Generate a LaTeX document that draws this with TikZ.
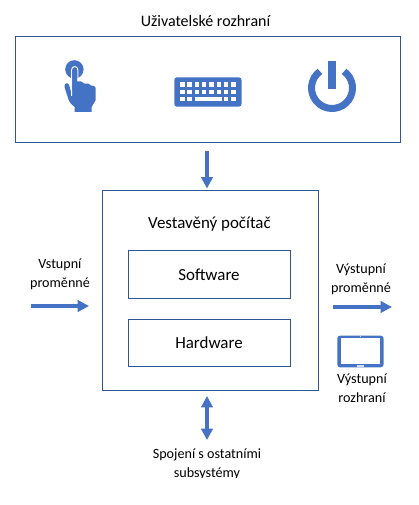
\documentclass[tikz,border=0pt]{standalone}
\usepackage{fontspec}
\setmainfont{Carlito}
\usetikzlibrary{arrows.meta}
\definecolor{boxc}{HTML}{2F5597}
\definecolor{fillc}{HTML}{4472C4}
\tikzset{
  x=0.75pt,y=-0.75pt,
  box/.style={draw=boxc,line width=0.75pt,fill=white,inner sep=0pt},
  lab/.style={font=\fontsize{10.6pt}{14pt}\selectfont,align=center,inner sep=0pt,text=black},
  big/.style={font=\fontsize{12.7pt}{15pt}\selectfont,inner sep=0pt,text=black},
  fat/.style={draw=fillc,line width=3pt,-{Triangle[length=8.5pt,width=8.5pt]}},
  fatb/.style={draw=fillc,line width=3pt,{Triangle[length=8.5pt,width=8.5pt]}-{Triangle[length=8.5pt,width=8.5pt]}},
  key/.style={fill=white,draw=none},
}
\begin{document}
\begin{tikzpicture}
\useasboundingbox (0,0) rectangle (418,505);
\fill[white] (0,0) rectangle (418,505);
% boxes
\node[box,minimum width=288.75pt,minimum height=79.5pt] (ui) at (207.5,90) {};
\node[box,minimum width=162pt,minimum height=149.25pt] (pc) at (210,290.5) {};
\node[box,minimum width=121.5pt,minimum height=35.25pt] (sw) at (209,274.5) {};
\node[box,minimum width=121.5pt,minimum height=35.25pt] (hw) at (209,342.5) {};
% labels
\node[big,font=\fontsize{12pt}{15pt}\selectfont] (t0) at (205.5,21) {Uživatelské rozhraní};
\node[big] (t1) at (209.5,224) {Vestavěný počítač};
\node[big] at (sw.center) {Software};
\node[big] at (hw.center) {Hardware};
\node[lab] (in) at (60,274.5) {Vstupní\\proměnné};
\node[lab] (out) at (361,279.5) {Výstupní\\proměnné};
\node[lab] (ifc) at (362,388) {Výstupní\\rozhraní};
\begin{scope}
\clip (100,440) rectangle (320,477);
\node[lab] (net) at (207,464) {Spojení s ostatními\\subsystémy};
\end{scope}
% arrows
\coordinate (ua) at (207,151);
\coordinate (ia) at (31,306);
\coordinate (oa) at (333,307);
\coordinate (ib) at (89,306);
\coordinate (ob) at (392,307);
\coordinate (na) at (207,396);
\coordinate (nb) at (207,440);
\draw[fat] (ua) -- (207,188.5);
\draw[fat] (ia) -- (ib);
\draw[fat] (oa) -- (ob);
\draw[fatb] (na) -- (nb);
% touch icon
\fill[fillc] (74.4,69.4) circle (9.2);
\fill[fillc] (74.7,112) -- (74.7,107) .. controls (71,104) and (69,102) .. (68,98)
  -- (64.5,87) .. controls (64,83) and (68,82) .. (69,85)
  -- (72,95) -- (72,70) -- (77,70) -- (77,81.5)
  .. controls (80,81) and (83,81) .. (84,83.5)
  .. controls (87,83) and (90,83.5) .. (91,85.5)
  .. controls (93,85.5) and (95.7,86) .. (95.7,88)
  -- (95.7,100) -- (91.7,107) -- (91.7,112) -- cycle;
\draw[white,line width=0.8pt] (71.6,96) -- (71.6,70) .. controls (71.6,65.5) and (77.8,65.5) .. (77.8,70) -- (77.8,81);
\fill[fillc] (72.3,90) -- (72.3,70) .. controls (72.3,66.6) and (77.1,66.6) .. (77.1,70) -- (77.1,90) -- cycle;
% keyboard
\fill[fillc,rounded corners=2pt] (174.3,77.3) rectangle (241.5,106.7);
\foreach \y in {82.3,89.7} \foreach \x in {0,...,7} {\fill[key] (180+\x*7.33,\y) rectangle ++(4.5,4.5);}
\foreach \x in {0,1,6,7} {\fill[key] (180+\x*7.33,97) rectangle ++(4.5,4.5);}
\fill[key] (194.7,97) rectangle (221.5,101.5);
% power icon
\draw[fillc,line width=5.25pt] (332,88) ++(-54:20.5) arc (-54:234:20.5);
\fill[fillc] (328,61) rectangle (336,88.6);
% tablet
\fill[fillc,rounded corners=2pt] (337.3,335.7) rectangle (383.5,367.3);
\fill[white] (340.7,338.3) rectangle (380,364);
\fill[white] (360.3,336.5) circle (0.5);
\fill[white!75!fillc] (357,365) rectangle (364,366.5);
\end{tikzpicture}
\end{document}
